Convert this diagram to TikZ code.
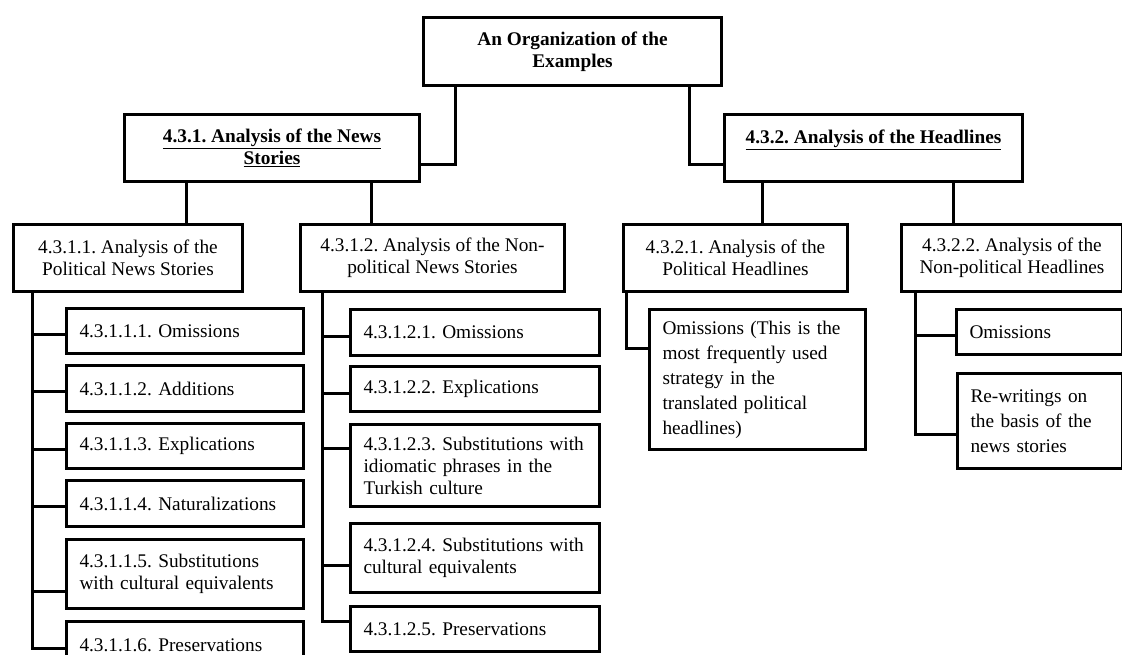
\documentclass[tikz,border=0pt]{standalone}
\usepackage{fontspec}
\setmainfont{Liberation Serif}
\frenchspacing

\begin{document}
\begin{tikzpicture}[x=1pt, y=-1pt,
    box/.style={draw, line width=3pt, anchor=north west, inner sep=0pt},
    hdr/.style={box, align=center, font=\bfseries\fontsize{19.3}{22}\selectfont},
    sub/.style={box, align=center, font=\fontsize{19.3}{22}\selectfont},
    leaf/.style={box, align=left, inner xsep=13pt, text width=#1, font=\fontsize{19.3}{22}\selectfont},
    conn/.style={line width=3pt}]
    \useasboundingbox (0,0) rectangle (1122,654);
    % top and first level
    \node[hdr, minimum width=298pt, minimum height=68pt] (top) at (422,16) {An Organization of the\\Examples};
    \node[hdr, minimum width=295pt, minimum height=67pt] (news) at (123,113) {\underline{4.3.1. Analysis of the News}\\\underline{Stories}};
    \node[hdr, minimum width=298pt, minimum height=67pt] (head) at (723,113) {\underline{4.3.2. Analysis of the Headlines}\\~};
    % second level
    \node[sub, minimum width=229pt, minimum height=67pt] (pol) at (12,223) {4.3.1.1. Analysis of the\\Political News Stories};
    \node[sub, minimum width=264pt, minimum height=67pt] (npol) at (299,223) {4.3.1.2. Analysis of the Non-\\political News Stories};
    \node[sub, minimum width=224pt, minimum height=67pt] (hpol) at (622,223) {4.3.2.1. Analysis of the\\Political Headlines};
    \node[sub, minimum width=221pt, minimum height=67pt] (hnpol) at (900,223) {4.3.2.2. Analysis of the\\Non-political Headlines};
    % leaves, political news stories
    \node[leaf=211pt, minimum height=45pt] (a1) at (65,307) {4.3.1.1.1. Omissions};
    \node[leaf=211pt, minimum height=46pt] (a2) at (65,364) {4.3.1.1.2. Additions};
    \node[leaf=211pt, minimum height=45pt] (a3) at (65,422) {4.3.1.1.3. Explications};
    \node[leaf=211pt, minimum height=46pt] (a4) at (65,479) {4.3.1.1.4. Naturalizations};
    \node[leaf=211pt, minimum height=69pt] (a5) at (65,538) {4.3.1.1.5. Substitutions\\with cultural equivalents};
    \node[leaf=211pt, minimum height=47pt] (a6) at (65,620) {4.3.1.1.6. Preservations};
    % leaves, non-political news stories
    \node[leaf=223pt, minimum height=46pt] (b1) at (349,308) {4.3.1.2.1. Omissions};
    \node[leaf=223pt, minimum height=45pt] (b2) at (349,365) {4.3.1.2.2. Explications};
    \node[leaf=223pt, minimum height=82pt] (b3) at (349,423) {4.3.1.2.3. Substitutions with\\idiomatic phrases in the\\Turkish culture};
    \node[leaf=223pt, minimum height=69pt] (b4) at (349,522) {4.3.1.2.4. Substitutions with\\cultural equivalents};
    \node[leaf=223pt, minimum height=45pt] (b5) at (349,605) {4.3.1.2.5. Preservations};
    % leaves, headlines
    \node[leaf=190pt, minimum height=140pt, font=\fontsize{19.3}{25}\selectfont] (c1) at (648,308) {Omissions (This is the\\most frequently used\\strategy in the\\translated political\\headlines)};
    \node[leaf=140pt, minimum height=45pt] (d1) at (955,308) {Omissions};
    \node[leaf=139pt, minimum height=95pt, font=\fontsize{19.3}{25}\selectfont] (d2) at (956,372) {Re-writings on\\the basis of the\\news stories};
    % connectors
    \draw[conn] ([xshift=33pt]top.south west) |- ([yshift=-16pt]news.east);
    \draw[conn] ([xshift=-34pt]top.south east) |- ([yshift=-16pt]head.west);
    \draw[conn] ([xshift=63pt]news.south west) -- ([xshift=63pt]news.south west |- pol.north);
    \draw[conn] ([xshift=-50pt]news.south east) -- ([xshift=-50pt]news.south east |- npol.north);
    \draw[conn] ([xshift=39pt]head.south west) -- ([xshift=39pt]head.south west |- hpol.north);
    \draw[conn] ([xshift=-71pt]head.south east) -- ([xshift=-71pt]head.south east |- hnpol.north);
    \foreach \n in {a1,a2,a3,a4,a6}
        \draw[conn] ([xshift=20pt]pol.south west) |- ([yshift=-3pt]\n.west);
    \draw[conn] ([xshift=20pt]pol.south west) |- ([yshift=-17pt]a5.west);
    \foreach \n in {b1,b2}
        \draw[conn] ([xshift=23pt]npol.south west) |- ([yshift=-4pt]\n.west);
    \draw[conn] ([xshift=23pt]npol.south west) |- ([yshift=17pt]b3.west);
    \draw[conn] ([xshift=23pt]npol.south west) |- ([yshift=-7pt]b4.west);
    \draw[conn] ([xshift=23pt]npol.south west) |- ([yshift=8pt]b5.west);
    \draw[conn] ([xshift=4pt]hpol.south west) |- ([yshift=31pt]c1.west);
    \draw[conn] ([xshift=15pt]hnpol.south west) |- ([yshift=-3pt]d1.west);
    \draw[conn] ([xshift=15pt]hnpol.south west) |- ([yshift=-13pt]d2.west);
\end{tikzpicture}
\end{document}
